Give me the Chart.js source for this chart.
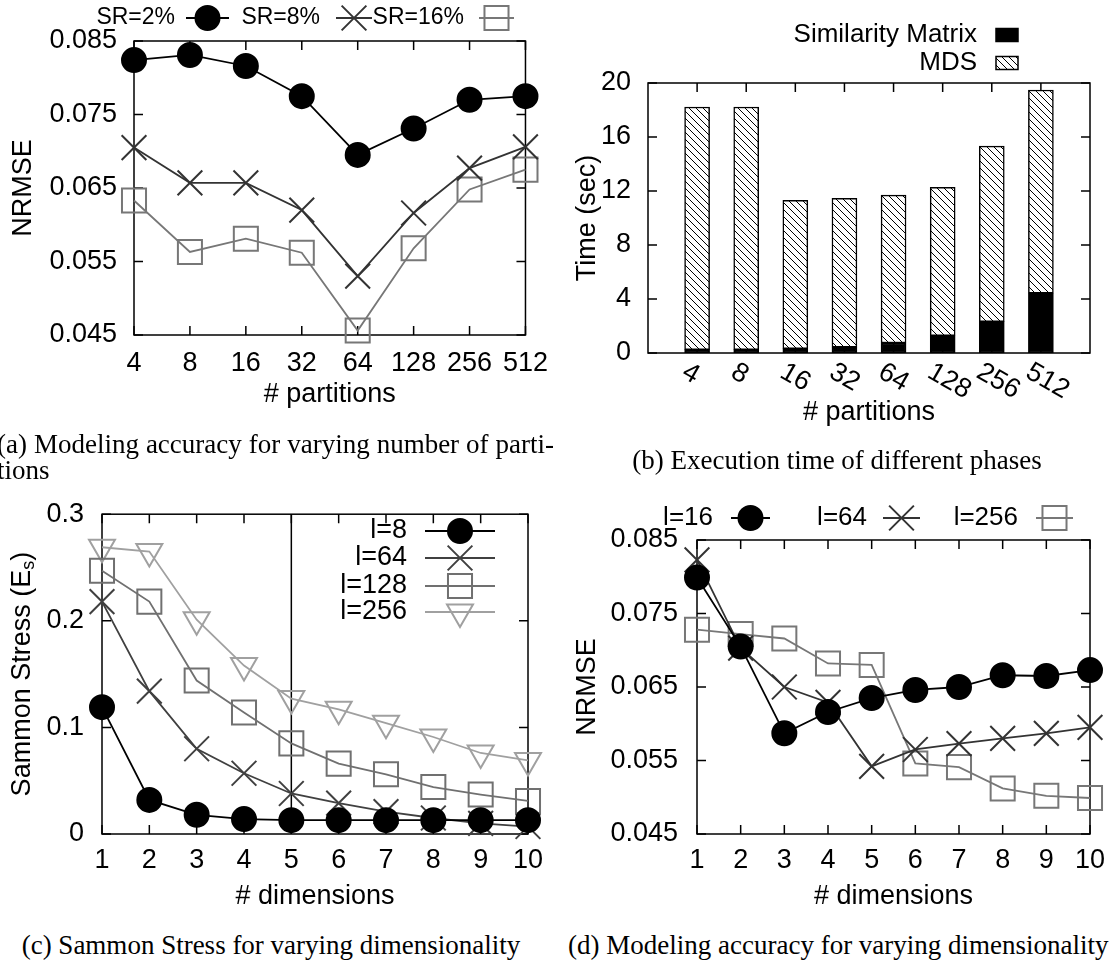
<!DOCTYPE html>
<html>
<head>
<meta charset="utf-8">
<script src="https://cdn.jsdelivr.net/npm/chart.js@4.4.1/dist/chart.umd.min.js"></script>
<style>
  body { margin: 0; background: #fff; width: 1119px; height: 963px; overflow: hidden; position: relative; }
  canvas { position: absolute; }
  .cap { position: absolute; font-family: 'Liberation Serif', 'Times New Roman', serif; font-size: 27px; line-height: 27px; color: #000; white-space: nowrap; }
</style>
</head>
<body>
<canvas id="chartA" width="560" height="440" style="left:0px; top:0px"></canvas>
<canvas id="chartB" width="559" height="440" style="left:560px; top:0px"></canvas>
<canvas id="chartC" width="560" height="440" style="left:0px; top:480px"></canvas>
<canvas id="chartD" width="559" height="440" style="left:560px; top:480px"></canvas>

<div class="cap" style="left:-3px; top:431px; width:557px; text-align:justify; text-align-last:justify">(a) Modeling accuracy for varying number of parti-</div>
<div class="cap" style="left:-3px; top:457px">tions</div>
<div class="cap" style="left:537px; top:447px; width:600px; text-align:center">(b) Execution time of different phases</div>
<div class="cap" style="left:21px; top:932px; width:500px; text-align:center">(c) Sammon Stress for varying dimensionality</div>
<div class="cap" style="left:568px; top:932px; width:536px; text-align:center">(d) Modeling accuracy for varying dimensionality</div>

<script>
// (a) NRMSE vs number of partitions, per sampling rate
const partitions = ['4', '8', '16', '32', '64', '128', '256', '512'];
const nrmseSR2  = [0.0824, 0.0831, 0.0816, 0.0775, 0.0695, 0.0731, 0.0770, 0.0775];
const nrmseSR8  = [0.0705, 0.0657, 0.0657, 0.0620, 0.0530, 0.0616, 0.0677, 0.0706];
const nrmseSR16 = [0.0633, 0.0563, 0.0581, 0.0562, 0.0456, 0.0568, 0.0648, 0.0675];

// (b) execution time (sec), stacked
const simMatrixTime = [0.25, 0.25, 0.32, 0.44, 0.74, 1.28, 2.32, 4.44];
const mdsTime       = [17.97, 17.97, 10.99, 11.02, 10.96, 10.99, 13.01, 15.04];

// (c) Sammon stress vs dimensions
const dims = ['1', '2', '3', '4', '5', '6', '7', '8', '9', '10'];
const stressL8   = [0.119, 0.032, 0.018, 0.014, 0.013, 0.013, 0.013, 0.013, 0.013, 0.013];
const stressL64  = [0.218, 0.134, 0.080, 0.057, 0.038, 0.029, 0.021, 0.015, 0.010, 0.007];
const stressL128 = [0.247, 0.218, 0.144, 0.114, 0.085, 0.066, 0.056, 0.044, 0.037, 0.031];
const stressL256 = [0.269, 0.265, 0.201, 0.158, 0.127, 0.117, 0.104, 0.091, 0.076, 0.069];
const chosenDim = '5';

// (d) NRMSE vs dimensions
const nrmseL16  = [0.0799, 0.0705, 0.0587, 0.0616, 0.0635, 0.0646, 0.0650, 0.0666, 0.0665, 0.0673];
const nrmseL64  = [0.0823, 0.0703, 0.0650, 0.0629, 0.0542, 0.0565, 0.0573, 0.0580, 0.0587, 0.0595];
const nrmseL256 = [0.0728, 0.0722, 0.0716, 0.0682, 0.0680, 0.0546, 0.0541, 0.0512, 0.0502, 0.0499];

const FONT = "'Liberation Sans', Arial, Helvetica, sans-serif";
const TICK = 27, TITLE = 27;
Chart.defaults.font.family = FONT;
Chart.defaults.color = '#000';

// gnuplot-like box with inward ticks on all four sides
const framePlugin = {
  id: 'frame',
  beforeDatasetsDraw(chart, args, opts) {
    const { ctx, chartArea: a, scales } = chart;
    const t = 9;
    ctx.save();
    ctx.strokeStyle = '#000';
    ctx.lineWidth = 1.5;
    ctx.beginPath();
    scales.y.ticks.forEach((tk, i) => {
      const y = scales.y.getPixelForTick(i);
      ctx.moveTo(a.left, y); ctx.lineTo(a.left + t, y);
      ctx.moveTo(a.right, y); ctx.lineTo(a.right - t, y);
    });
    scales.x.ticks.forEach((tk, i) => {
      if (chart.data.labels[tk.value] === '') return;
      const x = scales.x.getPixelForTick(i);
      ctx.moveTo(x, a.bottom); ctx.lineTo(x, a.bottom - t);
      ctx.moveTo(x, a.top); ctx.lineTo(x, a.top + t);
    });
    ctx.stroke();
    if (opts.vline != null) {
      const x = scales.x.getPixelForValue(chart.data.labels.indexOf(opts.vline));
      ctx.beginPath();
      ctx.moveTo(x, a.top); ctx.lineTo(x, a.bottom);
      ctx.stroke();
    }
    ctx.strokeRect(a.left, a.top, a.right - a.left, a.bottom - a.top);
    ctx.restore();
  }
};

// key: text first, then the sample (like gnuplot)
const keyPlugin = {
  id: 'key',
  afterDraw(chart, args, opts) {
    if (!opts.rows) return;
    const ctx = chart.ctx;
    ctx.save();
    ctx.font = opts.size + 'px ' + FONT;
    ctx.textAlign = 'right';
    ctx.textBaseline = 'middle';
    opts.rows.forEach(r => {
      const ds = chart.data.datasets[r.ds];
      ctx.fillStyle = '#000';
      ctx.fillText(ds.label, r.tx, r.y);
      if (opts.bars) {
        ctx.fillStyle = ds.backgroundColor;
        ctx.fillRect(r.x0, r.y - 6.5, r.x1 - r.x0, 13);
        ctx.strokeStyle = '#000';
        ctx.lineWidth = 1.5;
        ctx.strokeRect(r.x0, r.y - 6.5, r.x1 - r.x0, 13);
      } else {
        ctx.strokeStyle = ds.borderColor;
        ctx.lineWidth = ds.borderWidth;
        ctx.beginPath(); ctx.moveTo(r.x0, r.y); ctx.lineTo(r.x1, r.y); ctx.stroke();
        ctx.fillStyle = ds.pointBackgroundColor;
        ctx.strokeStyle = ds.pointBorderColor;
        ctx.lineWidth = ds.pointBorderWidth;
        if (Chart.helpers && Chart.helpers.drawPoint) {
          Chart.helpers.drawPoint(ctx, {
            pointStyle: ds.pointStyle, radius: ds.pointRadius,
            rotation: ds.pointRotation || 0, borderWidth: ds.pointBorderWidth
          }, (r.x0 + r.x1) / 2, r.y);
        }
      }
    });
    ctx.restore();
  }
};

// rotated x labels for the bar chart (rotate by -30 in gnuplot terms)
const slantPlugin = {
  id: 'slant',
  afterDraw(chart, args, opts) {
    if (!opts.on) return;
    const { ctx, scales } = chart;
    const xs = scales.x;
    ctx.save();
    ctx.font = TICK + 'px ' + FONT;
    ctx.fillStyle = '#000';
    ctx.textAlign = 'left';
    ctx.textBaseline = 'middle';
    chart.data.labels.forEach((lab, i) => {
      if (!lab) return;
      ctx.save();
      ctx.translate(xs.getPixelForValue(i) - 13, xs.top + 17);
      ctx.rotate(Math.PI / 6);
      ctx.fillText(lab, 0, 0);
      ctx.restore();
    });
    ctx.restore();
  }
};

// y title with subscript for (c)
const subTitlePlugin = {
  id: 'subTitle',
  afterDraw(chart, args, opts) {
    if (!opts.on) return;
    const { ctx, chartArea: a } = chart;
    ctx.save();
    ctx.translate(opts.x, (a.top + a.bottom) / 2);
    ctx.rotate(-Math.PI / 2);
    ctx.fillStyle = '#000';
    ctx.textBaseline = 'middle';
    ctx.textAlign = 'left';
    ctx.font = TITLE + 'px ' + FONT;
    const p1 = 'Sammon Stress (E', p3 = ')';
    const w1 = ctx.measureText(p1).width, w3 = ctx.measureText(p3).width;
    ctx.font = '18px ' + FONT;
    const w2 = ctx.measureText('s').width;
    const x = -(w1 + w2 + w3) / 2;
    ctx.font = TITLE + 'px ' + FONT;
    ctx.fillText(p1, x, 0);
    ctx.font = '18px ' + FONT;
    ctx.fillText('s', x + w1, 6);
    ctx.font = TITLE + 'px ' + FONT;
    ctx.fillText(p3, x + w1 + w2, 0);
    ctx.restore();
  }
};

Chart.register(framePlugin, keyPlugin, slantPlugin, subTitlePlugin);

function lineSet(label, data, color, style, radius, filled) {
  return {
    label: label, data: data,
    borderColor: color, backgroundColor: color, borderWidth: 1.8,
    pointStyle: style, pointRadius: radius, pointHoverRadius: radius,
    pointBorderWidth: 2, pointBorderColor: color,
    pointBackgroundColor: filled ? color : 'rgba(0,0,0,0)',
    pointRotation: style === 'triangle' ? 180 : 0,
    tension: 0, clip: false
  };
}

function xAxis(height, tickPad, title, titlePad, showTicks) {
  return {
    type: 'category', offset: false,
    grid: { display: false, drawTicks: false }, border: { display: false },
    ticks: { display: showTicks, font: { size: TICK }, color: '#000', padding: tickPad, maxRotation: 0, autoSkip: false },
    title: { display: true, text: title, font: { size: TITLE }, color: '#000', padding: { top: 0, bottom: titlePad } },
    afterFit: s => { s.height = height; }
  };
}

function yAxis(min, max, step, width, tickPad, fmt, title, titlePad) {
  return {
    type: 'linear', min: min, max: max,
    grid: { display: false, drawTicks: false }, border: { display: false },
    ticks: { stepSize: step, font: { size: TICK }, color: '#000', padding: tickPad, callback: fmt },
    title: { display: !!title, text: title, font: { size: TITLE }, color: '#000', padding: { top: titlePad, bottom: 0 } },
    afterFit: s => { s.width = width; }
  };
}

const base = {
  responsive: false, animation: false, devicePixelRatio: 1, events: [],
};
const fmt3 = v => v.toFixed(3);

// (a)
new Chart(document.getElementById('chartA'), {
  type: 'line',
  data: {
    labels: partitions,
    datasets: [
      lineSet('SR=2%', nrmseSR2, '#000', 'circle', 12, true),
      lineSet('SR=8%', nrmseSR8, '#333', 'crossRot', 17.5, false),
      lineSet('SR=16%', nrmseSR16, '#777', 'rect', 17, false)
    ]
  },
  options: Object.assign({}, base, {
    layout: { padding: { left: 0, top: 41, right: 32, bottom: 0 } },
    scales: {
      x: xAxis(105, 12, '# partitions', 29, true),
      y: yAxis(0.045, 0.085, 0.01, 134, 17, fmt3, 'NRMSE', 7)
    },
    plugins: {
      legend: { display: false }, tooltip: { enabled: false },
      key: { size: 23, rows: [
        { ds: 0, tx: 175, y: 18, x0: 186, x1: 229 },
        { ds: 1, tx: 320, y: 18, x0: 336, x1: 372 },
        { ds: 2, tx: 464, y: 18, x0: 479, x1: 514 }
      ] }
    }
  })
});

// (b)
function hatch() {
  const c = document.createElement('canvas');
  c.width = 7; c.height = 7;
  const g = c.getContext('2d');
  g.fillStyle = '#fff';
  g.fillRect(0, 0, 7, 7);
  g.strokeStyle = '#000';
  g.lineWidth = 1;
  g.beginPath();
  g.moveTo(0, 0); g.lineTo(7, 7);
  g.moveTo(-1, 6); g.lineTo(1, 8);
  g.moveTo(6, -1); g.lineTo(8, 1);
  g.stroke();
  return g.createPattern(c, 'repeat');
}
const barLabels = [''].concat(partitions, ['']);
const pad = arr => [null].concat(arr, [null]);

new Chart(document.getElementById('chartB'), {
  type: 'bar',
  data: {
    labels: barLabels,
    datasets: [
      { label: 'Similarity Matrix', data: pad(simMatrixTime), backgroundColor: '#000',
        borderColor: '#000', borderWidth: 1.5, borderSkipped: false, barThickness: 25 },
      { label: 'MDS', data: pad(mdsTime), backgroundColor: hatch(),
        borderColor: '#000', borderWidth: 1.5, borderSkipped: false, barThickness: 25 }
    ]
  },
  options: Object.assign({}, base, {
    layout: { padding: { left: 0, top: 83, right: 29, bottom: 0 } },
    scales: {
      x: Object.assign(xAxis(87, 0, '# partitions', 11, false), { stacked: true }),
      y: Object.assign(yAxis(0, 20, 4, 88, 17, v => String(v), 'Time (sec)', 11), { stacked: true })
    },
    plugins: {
      legend: { display: false }, tooltip: { enabled: false },
      slant: { on: true },
      key: { size: 26, bars: true, rows: [
        { ds: 0, tx: 417, y: 35, x0: 436, x1: 458 },
        { ds: 1, tx: 417, y: 63, x0: 436, x1: 458 }
      ] }
    }
  })
});

// (c)
new Chart(document.getElementById('chartC'), {
  type: 'line',
  data: {
    labels: dims,
    datasets: [
      lineSet('l=8', stressL8, '#000', 'circle', 12, true),
      lineSet('l=64', stressL64, '#404040', 'crossRot', 17.5, false),
      lineSet('l=128', stressL128, '#707070', 'rect', 17, false),
      lineSet('l=256', stressL256, '#a0a0a0', 'triangle', 15, false)
    ]
  },
  options: Object.assign({}, base, {
    layout: { padding: { left: 0, top: 32, right: 32, bottom: 0 } },
    scales: {
      x: xAxis(86, 10, '# dimensions', 7, true),
      y: yAxis(0, 0.3, 0.1, 102, 18, v => (v === 0 ? '0' : v.toFixed(1)), '', 0)
    },
    plugins: {
      legend: { display: false }, tooltip: { enabled: false },
      frame: { vline: chosenDim },
      subTitle: { on: true, x: 23 },
      key: { size: 27, rows: [
        { ds: 0, tx: 407, y: 51, x0: 425, x1: 495 },
        { ds: 1, tx: 407, y: 78, x0: 425, x1: 495 },
        { ds: 2, tx: 407, y: 106, x0: 425, x1: 495 },
        { ds: 3, tx: 407, y: 132, x0: 425, x1: 495 }
      ] }
    }
  })
});

// (d)
new Chart(document.getElementById('chartD'), {
  type: 'line',
  data: {
    labels: dims,
    datasets: [
      lineSet('l=16', nrmseL16, '#000', 'circle', 12, true),
      lineSet('l=64', nrmseL64, '#333', 'crossRot', 17.5, false),
      lineSet('l=256', nrmseL256, '#777', 'rect', 17, false)
    ]
  },
  options: Object.assign({}, base, {
    layout: { padding: { left: 0, top: 60, right: 29, bottom: 0 } },
    scales: {
      x: xAxis(86, 10, '# dimensions', 7, true),
      y: yAxis(0.045, 0.085, 0.01, 137, 19, fmt3, 'NRMSE', 11)
    },
    plugins: {
      legend: { display: false }, tooltip: { enabled: false },
      key: { size: 26, rows: [
        { ds: 0, tx: 153, y: 38, x0: 171, x1: 210 },
        { ds: 1, tx: 307, y: 38, x0: 323, x1: 360 },
        { ds: 2, tx: 458, y: 38, x0: 476, x1: 513 }
      ] }
    }
  })
});
</script>
</body>
</html>
